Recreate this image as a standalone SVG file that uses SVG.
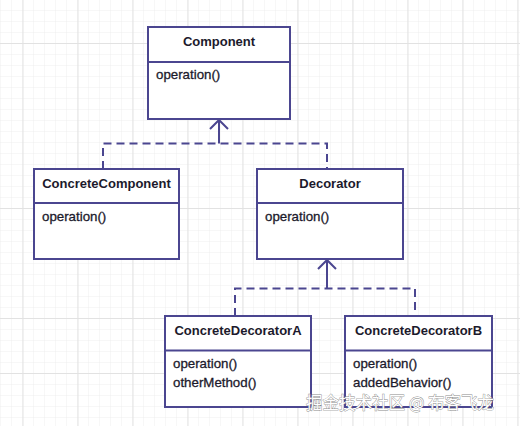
<svg xmlns="http://www.w3.org/2000/svg" width="520" height="426" viewBox="0 0 520 426">
<defs>
<pattern id="minor" x="1" y="0" width="11" height="11" patternUnits="userSpaceOnUse">
<path d="M11 0V11M0 11H11" fill="none" stroke="#eeeeee" stroke-width="1"/>
</pattern>
<pattern id="major" x="22.5" y="43" width="55" height="55" patternUnits="userSpaceOnUse">
<path d="M0.5 0V55M0 0.5H55" fill="none" stroke="#e2e2e2" stroke-width="1"/>
</pattern>
</defs>
<style>
.box{fill:#ffffff;stroke:#4b4690;stroke-width:2}
.div{stroke:#4b4690;stroke-width:2}
.hd{font-family:"Liberation Sans",Arial,sans-serif;font-size:13px;font-weight:bold;fill:#1c1a2c;text-anchor:middle}
.op{font-family:"Liberation Sans",Arial,sans-serif;font-size:13.3px;fill:#1c1a2c;stroke:#1c1a2c;stroke-width:0.3}
.dash{fill:none;stroke:#4b4690;stroke-width:2;stroke-dasharray:8 5}
.solid{fill:none;stroke:#4b4690;stroke-width:2}
.wm{font-family:"Noto Sans CJK SC","Liberation Sans",sans-serif;font-size:16.5px;fill:#ffffff;stroke:#8a8a8a;stroke-width:0.8;paint-order:stroke}
</style>
<rect width="520" height="426" fill="#ffffff"/>
<rect width="520" height="426" fill="url(#minor)"/>
<rect width="520" height="426" fill="url(#major)"/>

<g id="connectors">
<path class="dash" d="M103 169V143.5H327V169"/>
<path class="solid" d="M219 143.5V120"/>
<path class="solid" d="M210 129L219 120L228 129"/>
<path class="dash" d="M235 316V288.5H415V316"/>
<path class="solid" d="M327 288.5V260"/>
<path class="solid" d="M318 269L327 260L336 269"/>
</g>

<g id="Component">
<rect class="box" x="148" y="27" width="142" height="92"/>
<line class="div" x1="148" y1="62" x2="290" y2="62"/>
<text class="hd" x="219" y="46">Component</text>
<text class="op" x="156" y="79">operation()</text>
</g>

<g id="ConcreteComponent">
<rect class="box" x="34" y="169" width="145" height="90"/>
<line class="div" x1="34" y1="203" x2="179" y2="203"/>
<text class="hd" x="106.5" y="188">ConcreteComponent</text>
<text class="op" x="42" y="221">operation()</text>
</g>

<g id="Decorator">
<rect class="box" x="257" y="169" width="146" height="90"/>
<line class="div" x1="257" y1="203" x2="403" y2="203"/>
<text class="hd" x="330" y="188">Decorator</text>
<text class="op" x="265" y="221">operation()</text>
</g>

<g id="ConcreteDecoratorA">
<rect class="box" x="165" y="316" width="146" height="91"/>
<line class="div" x1="165" y1="350.5" x2="311" y2="350.5"/>
<text class="hd" x="238" y="335">ConcreteDecoratorA</text>
<text class="op" x="173" y="367.5">operation()</text>
<text class="op" x="173" y="387">otherMethod()</text>
</g>

<g id="ConcreteDecoratorB">
<rect class="box" x="345" y="316" width="147" height="91"/>
<line class="div" x1="345" y1="350.5" x2="492" y2="350.5"/>
<text class="hd" x="418.5" y="335">ConcreteDecoratorB</text>
<text class="op" x="353" y="367.5">operation()</text>
<text class="op" x="353" y="387">addedBehavior()</text>
</g>

<text class="wm" x="306" y="409">掘金技术社区 @ 布客飞龙</text>
</svg>
